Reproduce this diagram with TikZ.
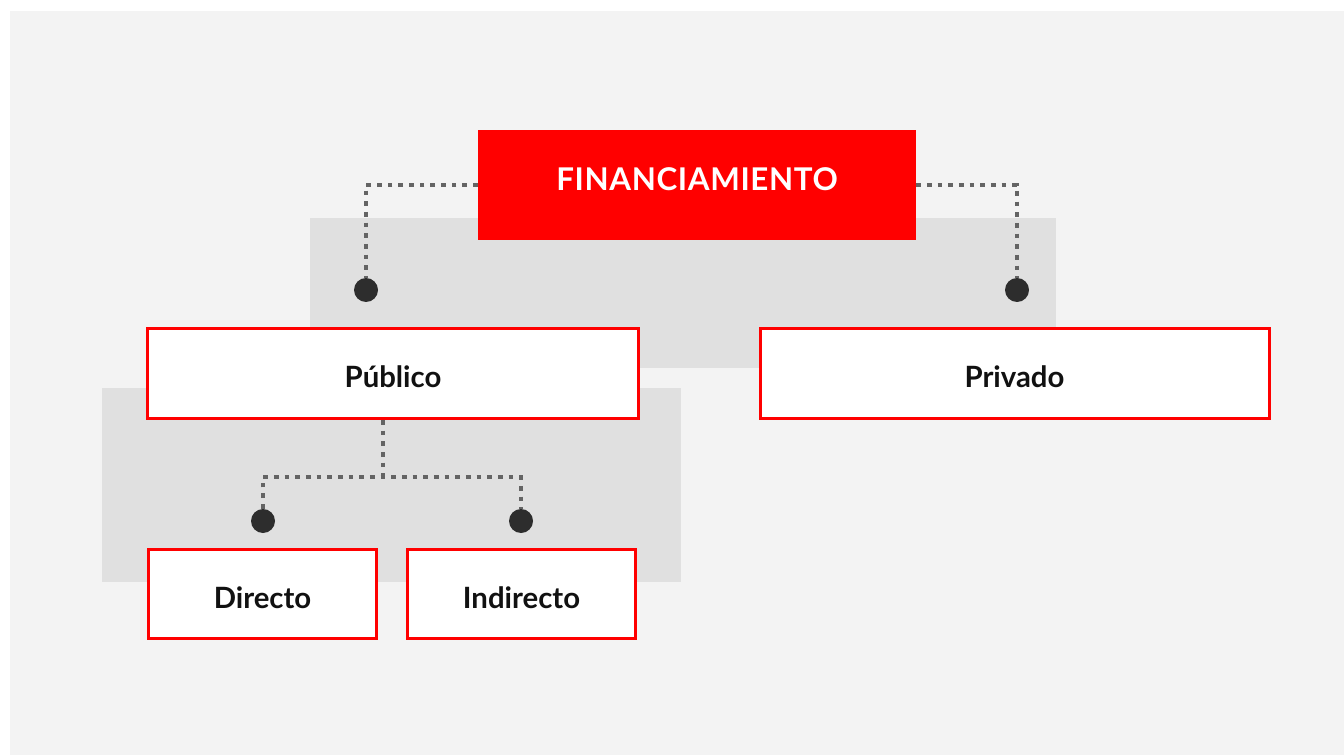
\documentclass[tikz,border=0pt]{standalone}
\usepackage{fontspec}
\setmainfont{Lato}
\definecolor{bgcol}{HTML}{F3F3F3}
\definecolor{panelcol}{HTML}{E0E0E0}
\definecolor{boxred}{HTML}{FF0000}
\definecolor{dotcol}{HTML}{2D2D2D}
\definecolor{linecol}{HTML}{646464}
\definecolor{txtcol}{HTML}{111111}

\begin{document}
\begin{tikzpicture}[x=0.75pt,y=-0.75pt,
  redbox/.style={draw=boxred,line width=2.25pt,fill=white,inner sep=0pt,
    text height=21pt,text depth=0pt,
    font=\bfseries\fontsize{22}{26}\selectfont,text=txtcol},
  topbox/.style={fill=boxred,inner sep=0pt,text=white,
    text height=8pt,text depth=0pt,
    font=\bfseries\fontsize{23.5}{28}\selectfont\addfontfeature{LetterSpace=2}},
  dotline/.style={linecol,line width=3.6pt,dash pattern=on 3.6pt off 4.4pt},
  enddot/.style={circle,fill=dotcol,minimum size=18pt,inner sep=0pt}]
\useasboundingbox (0,0) rectangle (1344,755);
\fill[bgcol] (10,11) rectangle (1344,755);
\fill[panelcol] (310,218) rectangle (1056,368);
\fill[panelcol] (102,388) rectangle (681,582);

\node[topbox,minimum width=328.5pt,minimum height=82.5pt] (fin) at (697,185) {FINANCIAMIENTO};
\node[redbox,minimum width=368.25pt,minimum height=67.5pt] (pub) at (393,373.5) {Público};
\node[redbox,minimum width=381.75pt,minimum height=67.5pt] (priv) at (1014.5,373.5) {Privado};
\node[redbox,minimum width=171pt,minimum height=66.75pt] (dir) at (262.5,594) {Directo};
\node[redbox,minimum width=171pt,minimum height=66.75pt] (ind) at (521.5,594) {Indirecto};

\node[enddot] (dotpub) at (366,290) {};
\node[enddot] (dotpriv) at (1017,290) {};
\node[enddot] (dotdir) at (263,521) {};
\node[enddot] (dotind) at (521,521) {};
\coordinate (split) at (383,477);

\draw[dotline] (fin.west) -| (dotpub);
\draw[dotline] (fin.east) -| (dotpriv);
\draw[dotline] (split |- pub.south) -- (split);
\draw[dotline] (dotdir) |- (split) -| (dotind);
\end{tikzpicture}
\end{document}
